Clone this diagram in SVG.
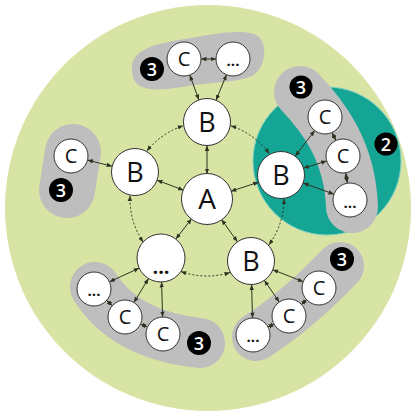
<svg xmlns="http://www.w3.org/2000/svg" width="417" height="416" viewBox="0 0 417 416">
<defs>
<style>
.n{fill:#fff;stroke:#333;stroke-width:1}
.t{font-family:"Open Sans","Liberation Sans",sans-serif;fill:#111;text-anchor:middle}
.big{font-size:28px}
.mid{font-size:27px}
.sm{font-size:20px}
.dots{font-weight:bold}
.bd{fill:#000}
.bt{font-family:"Open Sans","Liberation Sans",sans-serif;fill:#fff;font-size:18px;text-anchor:middle;font-weight:600}
.blob{fill:none;stroke:#bebebe;stroke-linecap:round}
.c{fill:none;stroke:#2c3320;stroke-width:1;marker-start:url(#ah);marker-end:url(#ah)}
.d{stroke-dasharray:2 2}
</style>
<marker id="ah" viewBox="0 0 6 6" refX="6" refY="3" markerWidth="5.5" markerHeight="5.5" markerUnits="userSpaceOnUse" orient="auto-start-reverse">
<path d="M0,0.6 L6,3 L0,5.4 z" fill="#2c3320"/>
</marker>
</defs>
<rect width="417" height="416" fill="#fff"/>
<circle cx="208" cy="208" r="203" fill="#d7e4a3"/>
<circle cx="327" cy="161" r="74" fill="#14a595" stroke="#7fd2c2" stroke-width="1"/>
<g id="blobs">
<path fill="#bebebe" d="M132,70 C130,52 150,44 185,39 C215,34 245,28 258,36 C268,44 266,68 252,76 C238,82 215,82 195,85 C170,89 150,92 140,86 C134,82 132,77 132,70 Z"/>
<path class="blob" stroke-width="56" d="M73,152 L67,190"/>
<path class="blob" stroke-width="52" d="M300,92 C322,115 350,150 352,207"/>
<path class="blob" stroke-width="48" d="M256,337 Q298,310 340,266"/>
<path class="blob" stroke-width="50" d="M95,287 Q125,335 200,343"/>
</g>
<g id="connectors">
<line class="c" x1="207" y1="174" x2="207" y2="145.5"/>
<line class="c" x1="183.6" y1="190.2" x2="157" y2="180.2"/>
<line class="c" x1="230.8" y1="191.3" x2="258.7" y2="182.2"/>
<line class="c" x1="221.5" y1="219.4" x2="237.4" y2="241.8"/>
<line class="c" x1="191.6" y1="218.7" x2="175.8" y2="239.1"/>
<line class="c" x1="198.9" y1="99.9" x2="189.8" y2="75"/>
<line class="c" x1="216" y1="100.3" x2="226.5" y2="74.7"/>
<line class="c" x1="201" y1="59" x2="216" y2="59"/>
<line class="c" x1="112.2" y1="166.3" x2="87.5" y2="160.1"/>
<line class="c" x1="295.2" y1="156.3" x2="314.7" y2="130.5"/>
<line class="c" x1="303.5" y1="168.1" x2="326.7" y2="161"/>
<line class="c" x1="303.1" y1="183" x2="334" y2="194.2"/>
<line class="c" x1="332.1" y1="132.4" x2="335.9" y2="140.6"/>
<line class="c" x1="345.7" y1="172.8" x2="347.3" y2="183.2"/>
<line class="c" x1="272.8" y1="269.7" x2="303.2" y2="281.7"/>
<line class="c" x1="264.3" y1="280.3" x2="279.3" y2="302"/>
<line class="c" x1="251.6" y1="284.5" x2="252.5" y2="318"/>
<line class="c" x1="306.6" y1="299.6" x2="301.4" y2="304.4"/>
<line class="c" x1="274" y1="323.9" x2="268" y2="327.1"/>
<line class="c" x1="139.2" y1="268.1" x2="109.4" y2="281.9"/>
<line class="c" x1="148.5" y1="278.5" x2="133.9" y2="302.5"/>
<line class="c" x1="161.6" y1="282" x2="162.6" y2="317"/>
<line class="c" x1="106.6" y1="300.4" x2="112.4" y2="305.6"/>
<line class="c" x1="140.5" y1="324" x2="147.5" y2="327"/>
<path class="c d" d="M230.8,125.8 A77,77 0 0 1 269.3,153.7"/>
<path class="c d" d="M284,199 A77,77 0 0 1 268.8,244.9"/>
<path class="c d" d="M230,272.5 A77,77 0 0 1 180.8,271.4"/>
<path class="c d" d="M143.2,242.2 A77,77 0 0 1 130.1,195.5"/>
<path class="c d" d="M146.9,151 A77,77 0 0 1 183.2,125.8"/>
</g>
<g id="A"><circle class="n" cx="207" cy="199" r="25.5"/><text class="t big" x="207" y="209">A</text></g>
<g id="B-top"><circle class="n" cx="207" cy="122" r="23.5"/><text class="t mid" x="207" y="131.5">B</text></g>
<g id="B-left"><circle class="n" cx="135" cy="172" r="23.5"/><text class="t mid" x="135" y="181.5">B</text></g>
<g id="B-right"><circle class="n" cx="281" cy="175" r="23.5"/><text class="t mid" x="281" y="184.5">B</text></g>
<g id="B-bottom"><circle class="n" cx="251" cy="261" r="23.5"/><text class="t mid" x="251" y="270.5">B</text></g>
<g id="B-more"><circle class="n" cx="161" cy="258" r="24"/><text class="t sm dots" x="161" y="274">...</text></g>
<g id="C-top"><circle class="n" cx="184" cy="59" r="17"/><text class="t sm" x="184" y="66">C</text></g>
<g id="D-top"><circle class="n" cx="233" cy="59" r="17"/><text class="t dots" font-size="15" x="233" y="66">...</text></g>
<g id="C-left"><circle class="n" cx="71" cy="156" r="17"/><text class="t sm" x="71" y="163">C</text></g>
<g id="C-right1"><circle class="n" cx="325" cy="117" r="17"/><text class="t sm" x="325" y="124">C</text></g>
<g id="C-right2"><circle class="n" cx="343" cy="156" r="17"/><text class="t sm" x="343" y="163">C</text></g>
<g id="D-right"><circle class="n" cx="350" cy="200" r="17"/><text class="t dots" font-size="15" x="350" y="208">...</text></g>
<g id="C-br1"><circle class="n" cx="319" cy="288" r="17"/><text class="t sm" x="319" y="295">C</text></g>
<g id="C-br2"><circle class="n" cx="289" cy="316" r="17"/><text class="t sm" x="289" y="323">C</text></g>
<g id="D-br"><circle class="n" cx="253" cy="335" r="17"/><text class="t dots" font-size="15" x="253" y="342">...</text></g>
<g id="D-bl"><circle class="n" cx="94" cy="289" r="17"/><text class="t dots" font-size="15" x="94" y="296">...</text></g>
<g id="C-bl1"><circle class="n" cx="125" cy="317" r="17"/><text class="t sm" x="125" y="324">C</text></g>
<g id="C-bl2"><circle class="n" cx="163" cy="334" r="17"/><text class="t sm" x="163" y="341">C</text></g>
<g id="badge-top"><circle class="bd" cx="152" cy="69" r="12"/><text class="bt" x="152" y="75.5">3</text></g>
<g id="badge-left"><circle class="bd" cx="61" cy="190" r="12"/><text class="bt" x="61" y="196.5">3</text></g>
<g id="badge-right"><circle class="bd" cx="301" cy="87" r="11.5"/><text class="bt" x="301" y="93.5">3</text></g>
<g id="badge-2"><circle class="bd" cx="386" cy="144" r="11.5"/><text class="bt" x="386" y="150.5">2</text></g>
<g id="badge-br"><circle class="bd" cx="342" cy="259" r="12"/><text class="bt" x="342" y="265.5">3</text></g>
<g id="badge-bl"><circle class="bd" cx="199" cy="343" r="12"/><text class="bt" x="199" y="349.5">3</text></g>
</svg>
